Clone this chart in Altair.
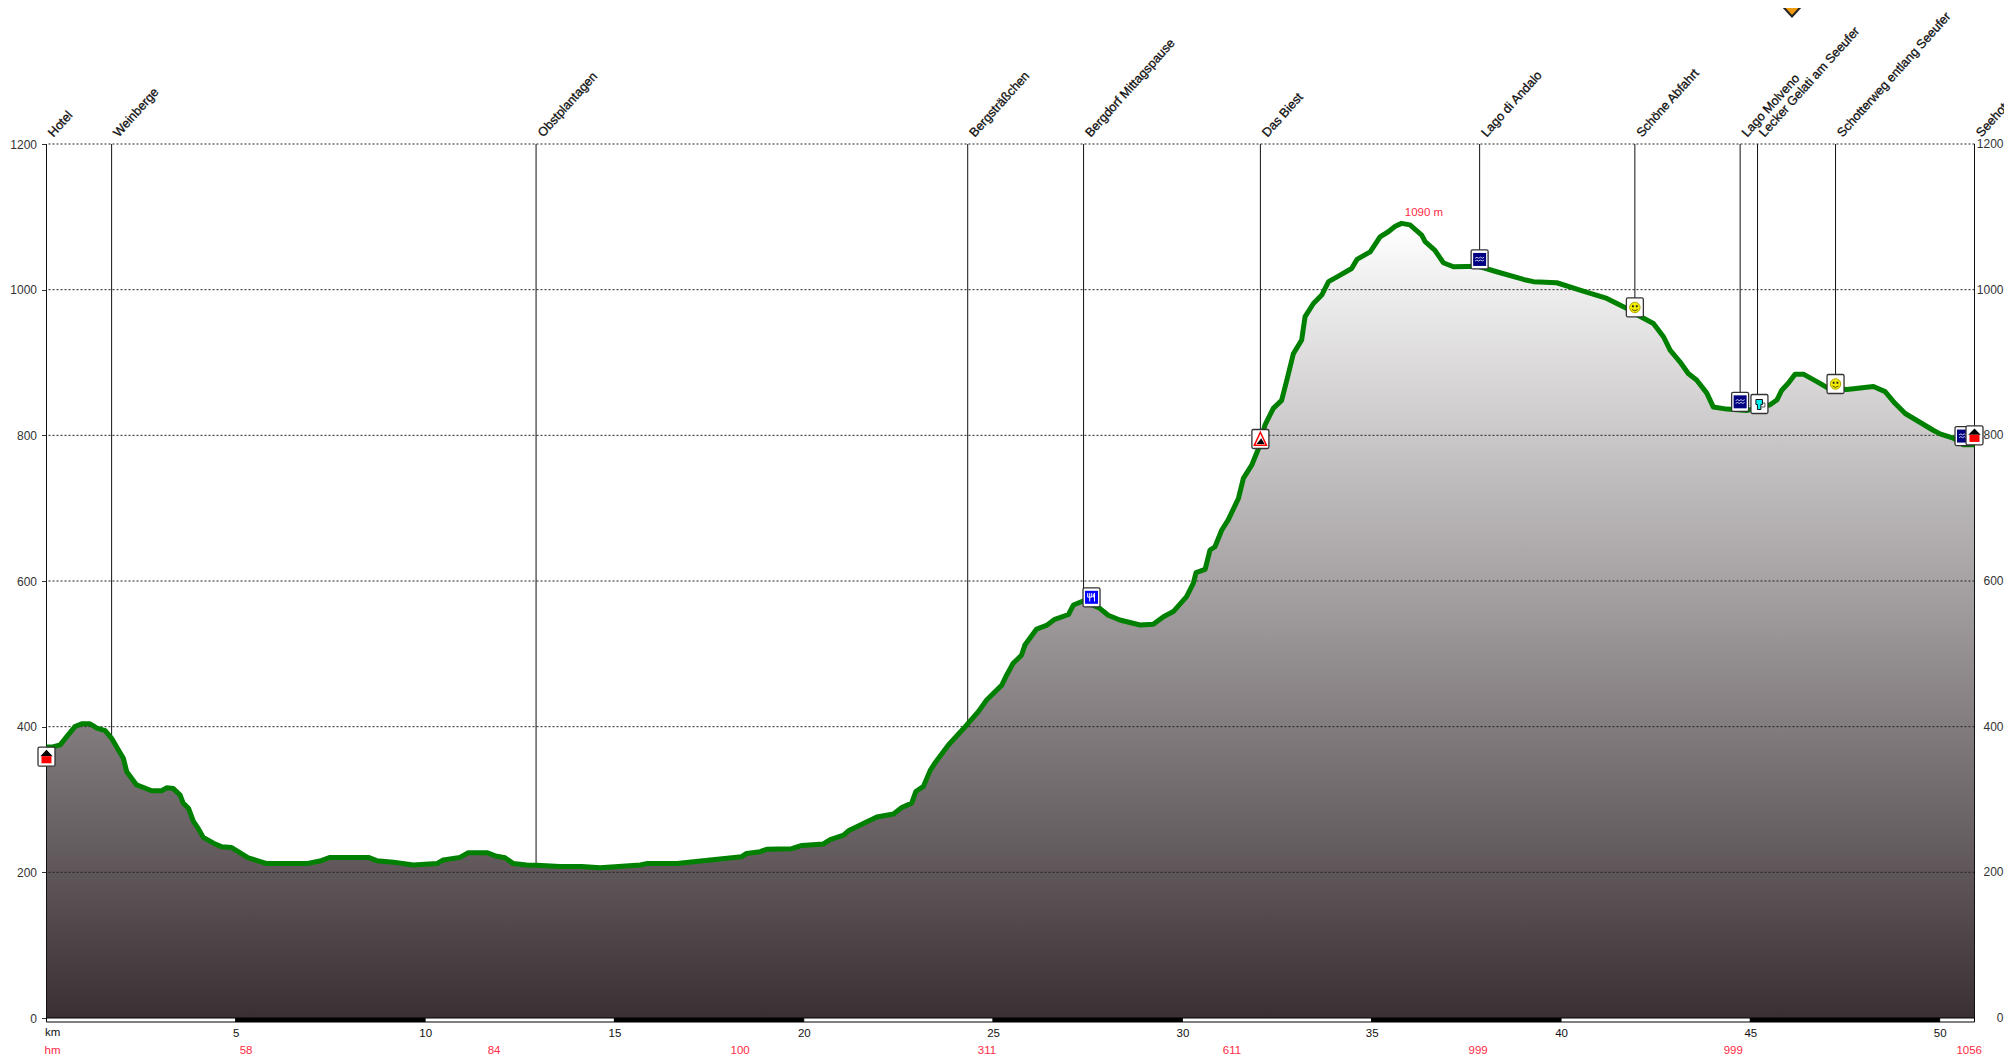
import altair as alt
import pandas as pd

km = [0, .14, .36, .53, .75, .93, 1.15, 1.33, 1.55, 1.72, 1.90, 2.03, 2.12, 2.38, 2.78, 3.04, 3.17, 3.35, 3.53, 3.61,
      3.75, 3.88, 4.01, 4.14, 4.41, 4.63, 4.89, 5.33, 5.82, 6.87, 7.22, 7.49, 8.50, 8.72, 9.16, 9.69, 10.31, 10.48,
      10.92, 11.14, 11.63, 11.89, 12.11, 12.33, 12.68, 12.95, 13.56,
      14.14, 14.62, 15.68, 15.85, 16.65, 17.53, 18.36, 18.49, 18.85, 19.02, 19.68, 19.95, 20.52, 20.70, 21.05, 21.18,
      21.93, 22.37, 22.59, 22.85, 22.96, 23.16, 23.34,
      23.46, 23.82, 24.30, 24.61, 24.83, 25.23, 25.36, 25.53, 25.75, 25.84, 26.15, 26.41, 26.63, 26.99, 27.12, 27.38,
      27.82, 28.04, 28.35, 28.88, 29.23, 29.50, 29.76, 30.11, 30.29, 30.36, 30.60, 30.73, 30.86, 31.04, 31.21, 31.48,
      31.61, 31.83, 32.01, 32.18, 32.40, 32.62, 32.76, 32.93, 33.15, 33.24, 33.46, 33.68, 33.86, 34.12, 34.47, 34.61,
      34.96, 35.22, 35.44, 35.62, 35.79, 36.01, 36.32, 36.41, 36.67, 36.89, 37.16, 37.82, 38.30, 39.01, 39.27, 39.89,
      40.50, 41.21, 41.74, 41.96, 42.44, 42.71, 42.88,
      43.14, 43.36, 43.58, 43.85, 44.02, 44.38, 44.90, 45.52, 45.70, 45.83, 46.00, 46.18, 46.40, 46.84, 47.06, 47.55,
      48.25, 48.56, 48.82, 49.09, 49.83, 50.01, 50.36, 50.63, 50.92]
elev = [372, 372, 375, 386, 400, 404, 404, 398, 394.5, 384, 368, 356.5, 338, 320, 312, 312, 316, 315, 306, 295,
        288, 270, 260, 248, 240, 235, 234, 220, 212, 212, 215.5, 220.5, 220.5, 216, 214, 210, 212, 217,
        220.5, 227, 227, 222, 220, 212, 210, 209.6, 208,
        208, 206.4, 210, 212, 212, 217, 221.5, 226, 228.4, 231.6, 232.5, 237, 239, 245, 251, 257,
        276, 280, 289, 295, 311, 318, 340,
        349.7, 374.8, 402, 420.6, 436.6, 457, 471, 487, 498, 512, 534, 539, 547.4, 554, 567, 572.6,
        562.5, 553, 546.5, 539.6, 540.5, 551, 558, 578.5, 597, 611.5, 616, 642.6, 647, 670, 684, 713.5,
        741, 759, 782, 814, 837, 848, 876, 912, 931, 963, 981, 992.6, 1011, 1018.6, 1029, 1041.5,
        1052, 1072.6, 1079.5, 1087, 1091, 1089, 1075, 1066, 1054, 1037, 1031.5, 1032, 1024.6, 1014, 1011, 1009.5,
        999.4, 988, 974, 967, 953.6, 935, 917,
        901, 885, 876, 858, 839, 836, 834, 842, 848.5, 862, 871.4, 884, 884, 871.4, 864.6, 863,
        867, 860, 844, 830, 807, 802, 796, 787, 787]

names = ["Hotel", "Weinberge", "Obstplantagen", "Bergsträßchen", "Bergdorf Mittagspause", "Das Biest",
         "Lago di Andalo", "Schöne Abfahrt", "Lago Molveno", "Lecker Gelati am Seeufer",
         "Schotterweg entlang Seeufer", "Seehotel"]
name_km = [0, 1.72, 12.93, 24.33, 27.39, 32.06, 37.85, 41.95, 44.73, 45.19, 47.25, 50.92]
rule_end = [0, 385, 210, 405, 578, 795, 1041, 975, 846, 843, 870, 0]

icon_km = [37.85, 44.73, 50.63, 27.6, 32.06, 41.95, 47.25, 45.24, 0, 50.92]
icon_elev = [1041.5, 846, 799, 577.6, 795, 975.6, 870.5, 843, 358.8, 800]
icon_kind = ["water", "water", "water", "food", "peak", "smile", "smile", "beer", "house", "house"]

y_ticks = [0, 200, 400, 600, 800, 1000, 1200]
grid_vals = [200, 400, 600, 800, 1000, 1200]
km_ticks = [5, 10, 15, 20, 25, 30, 35, 40, 45, 50]
seg_start = [0, 5, 10, 15, 20, 25, 30, 35, 40, 45, 50]
seg_end = [5, 10, 15, 20, 25, 30, 35, 40, 45, 50, 50.92]
seg_kind = ["w", "b", "w", "b", "w", "b", "w", "b", "w", "b", "w"]
hm_labels = ["58", "84", "100", "311", "611", "999", "999", "1056"]
hm_km = [5.27, 11.82, 18.32, 24.84, 31.31, 37.81, 44.55, 50.78]

RED = "#ff2a45"
TXT = "#333333"
FONT = "Liberation Sans"
W, H = 1928, 874

xs = alt.Scale(domain=[0, 50.92], zero=False, nice=False)
ys = alt.Scale(domain=[0, 1200], zero=False, nice=False)
x_axis = alt.Axis(values=km_ticks, format="d", domain=False, ticks=False, grid=False, labelPadding=9, title=None,
                  labelFont=FONT, labelFontSize=11.5, labelColor="#111111", labelAngle=0, labelFlush=False,
                  labelOverlap=False)
y_axis = alt.Axis(values=y_ticks, format="d", domain=False, grid=False, tickSize=5, tickColor="#333333",
                  labelPadding=5, title=None, labelFont=FONT, labelFontSize=12, labelColor=TXT)
X = alt.X("km:Q", scale=xs, axis=x_axis)
Y = alt.Y("elev:Q", scale=ys, axis=y_axis)

prof = pd.DataFrame({"km": km, "elev": elev})
gradient = alt.Gradient(
    gradient="linear",
    stops=[alt.GradientStop(color="#3a3033", offset=0), alt.GradientStop(color="#ffffff", offset=1)],
    x1=1, x2=1, y1=1, y2=0,
)
area = alt.Chart(prof).mark_area(fill=gradient, line=False).encode(x=X, y=Y)

grid = alt.Chart(pd.DataFrame({"elev": grid_vals})).mark_rule(
    color="#222222", strokeWidth=1, strokeDash=[2, 2]).encode(y=Y)

rules_df = pd.DataFrame({"km": name_km, "top": [1200] * len(name_km), "elev": rule_end, "name": names})
rules = alt.Chart(rules_df).mark_rule(color="#111111", strokeWidth=1).encode(
    x=X, y=alt.Y("top:Q", scale=ys, axis=y_axis), y2="elev:Q")

line = alt.Chart(prof).mark_line(color="#008000", strokeWidth=5, strokeJoin="round").encode(x=X, y=Y)

labels = alt.Chart(rules_df).mark_text(
    angle=312, align="left", baseline="alphabetic", dx=5, dy=5,
    font=FONT, fontSize=12.6, color="#111111", stroke="#111111", strokeWidth=0.3).encode(
    x=X, y=alt.value(-6), text="name:N")

seg_df = pd.DataFrame({"km": seg_start, "km2": seg_end, "kind": seg_kind})
bar = alt.Chart(seg_df).mark_rect(stroke="#000000", strokeWidth=1).encode(
    x=X, x2="km2:Q", y=alt.value(H), y2=alt.value(H + 4),
    fill=alt.Fill("kind:N", scale=alt.Scale(domain=["w", "b"], range=["#ffffff", "#000000"]), legend=None))

right_lab = alt.Chart(pd.DataFrame({"elev": y_ticks})).mark_text(
    align="right", baseline="middle", font=FONT, fontSize=12, color=TXT).encode(
    x=alt.value(W + 29), y=Y, text="elev:Q")

km_lab = alt.Chart(pd.DataFrame({"t": ["km"]})).mark_text(
    align="left", baseline="middle", font=FONT, fontSize=11.5, color="#111111").encode(
    x=alt.value(-1.5), y=alt.value(H + 15), text="t:N")
hm_lab0 = alt.Chart(pd.DataFrame({"t": ["hm"]})).mark_text(
    align="left", baseline="middle", font=FONT, fontSize=11.5, color=RED).encode(
    x=alt.value(-2), y=alt.value(H + 33), text="t:N")
hm_lab = alt.Chart(pd.DataFrame({"km": hm_km, "t": hm_labels})).mark_text(
    align="center", baseline="middle", font=FONT, fontSize=11.5, color=RED).encode(
    x=X, y=alt.value(H + 33), text="t:N")
peak_lab = alt.Chart(pd.DataFrame({"km": [36.38], "elev": [1105], "t": ["1090 m"]})).mark_text(
    align="center", baseline="middle", font=FONT, fontSize=11.5, color=RED).encode(x=X, y=Y, text="t:N")

icons = pd.DataFrame({"km": icon_km, "elev": icon_elev, "kind": icon_kind})
BOX = ("M-0.7,-0.95L0.7,-0.95Q0.85,-0.95 0.85,-0.8L0.85,0.8Q0.85,0.95 0.7,0.95L-0.7,0.95"
       "Q-0.85,0.95 -0.85,0.8L-0.85,-0.8Q-0.85,-0.95 -0.7,-0.95Z")


def part(kind, path, fill=None, stroke=None, sw=1.0, size=400):
    kw = dict(shape=path, size=size, opacity=1)
    if fill:
        kw.update(filled=True, fill=fill)
    else:
        kw.update(filled=False, fill="transparent")
    if stroke:
        kw.update(stroke=stroke, strokeWidth=sw)
    else:
        kw.update(strokeWidth=0)
    return alt.Chart(icons[icons["kind"] == kind]).mark_point(**kw).encode(x=X, y=Y)


def box(kind):
    return part(kind, BOX, fill="#ffffff", stroke="#333333", sw=1.3)


NAVY = "M-0.65,-0.65H0.65V0.65H-0.65Z"
WAVES = ("M-0.45,-0.12L-0.27,-0.22L-0.09,-0.12L0.09,-0.22L0.27,-0.12L0.45,-0.22"
         "M-0.45,0.16L-0.27,0.06L-0.09,0.16L0.09,0.06L0.27,0.16L0.45,0.06")
FORK = "M-0.38,-0.42V-0.02H0.02V-0.42M-0.18,-0.42V0.42M0.3,-0.42V0.42M0.3,-0.42L0.12,-0.05H0.3"
glyphs = [
    box("water"), part("water", NAVY, fill="#000080"), part("water", WAVES, stroke="#c8c8ee", sw=1),
    box("food"), part("food", NAVY, fill="#0000ff"), part("food", FORK, stroke="#ffffff", sw=1),
    box("peak"), part("peak", "M-0.6,0.62L0,-0.68L0.6,0.62Z", fill="#ffffff", stroke="#ff0000", sw=1.5),
    part("peak", "M-0.38,0.5L0.08,-0.08L0.42,0.5Z", fill="#000000"),
    box("smile"), part("smile", "circle", fill="#f2ee00", stroke="#b5a800", sw=1, size=110),
    part("smile", "M-0.28,-0.22H-0.1V-0.02H-0.28ZM0.1,-0.22H0.28V-0.02H0.1Z", fill="#222222"),
    part("smile", "M-0.3,0.2Q0,0.48 0.3,0.2", stroke="#555500", sw=1),
    box("beer"), part("beer", "M-0.35,-0.45H0.3V0.05H0.15V0.55H-0.2V0.05H-0.35Z", fill="#00f0f0", stroke="#111111", sw=1),
    part("beer", "M0.3,-0.1H0.55V0.3H0.2", stroke="#333333", sw=0.8),
    box("house"), part("house", "M-0.62,-0.05L0,-0.68L0.62,-0.05Z", fill="#000000"),
    part("house", "M-0.5,-0.05H0.5V0.66H-0.5Z", fill="#ff0000"),
]

marker = alt.Chart(pd.DataFrame({"km": [46.1]})).mark_point(
    shape="M-1.7,-1.0L1.7,-1.0L0,0.85Z", size=400, filled=True, fill="#f09a10",
    stroke="#222222", strokeWidth=2, opacity=1).encode(x=X, y=alt.value(-136))

chart = alt.layer(
    area, grid, rules, line, bar, labels, right_lab, km_lab, hm_lab0, hm_lab, peak_lab, marker, *glyphs
).properties(
    width=W, height=H,
    padding={"left": 38.5, "top": 136, "right": 29.5, "bottom": 38},
    autosize=alt.AutoSizeParams(type="none"),
    background="#ffffff",
).configure_view(stroke=None)

chart.save("out.html", embed_options={"renderer": "svg", "actions": False})
